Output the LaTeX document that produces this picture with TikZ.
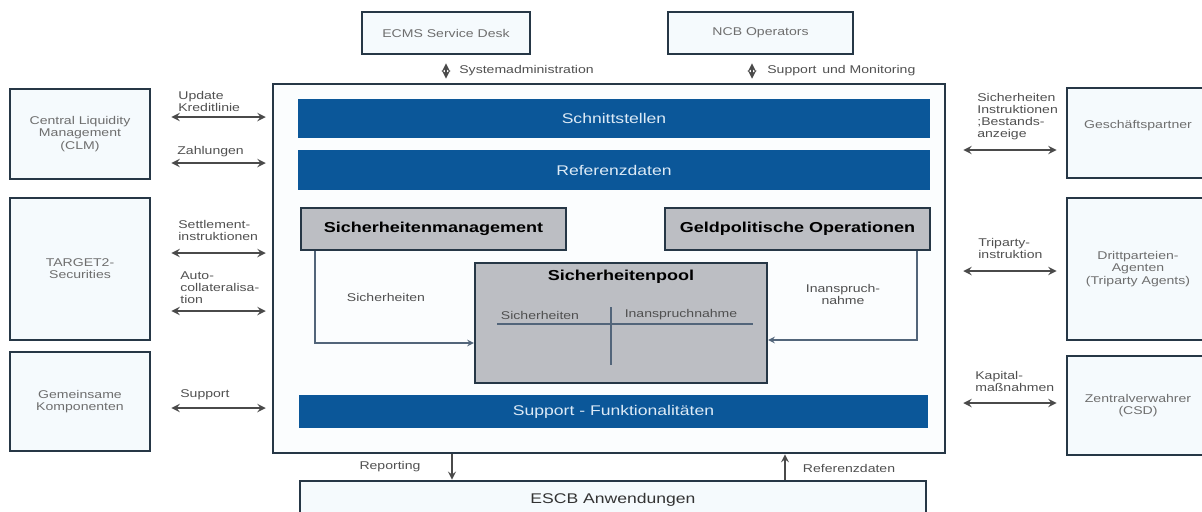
\documentclass[tikz,border=0pt]{standalone}
\usepackage{fontspec}
\setmainfont{Liberation Sans}[FakeStretch=1.25]
\usepackage{tikz}
\usetikzlibrary{arrows}

\definecolor{frame}{HTML}{263746}
\definecolor{paleblue}{HTML}{F5FAFD}
\definecolor{barblue}{HTML}{0B5799}
\definecolor{bartext}{HTML}{DCEAF6}
\definecolor{poolgray}{HTML}{BCBEC3}
\definecolor{boxtext}{HTML}{6E6E6E}
\definecolor{labeltext}{HTML}{505050}
\definecolor{arrowgray}{HTML}{4A4A4A}
\definecolor{flowline}{HTML}{52657A}

\tikzset{
  sidebox/.style={draw=frame, line width=1.6pt, fill=paleblue, inner sep=0pt,
    align=center, text=boxtext, font=\fontsize{6.4}{6.9}\selectfont},
  bar/.style={fill=barblue, inner sep=0pt, text=bartext,
    font=\fontsize{8}{9}\selectfont},
  graybox/.style={draw=frame, line width=1.3pt, fill=poolgray, inner sep=0pt,
    font=\bfseries\fontsize{8.2}{9}\selectfont},
  lbl/.style={align=left, anchor=west, inner sep=0pt, text=labeltext,
    font=\fontsize{6.4}{6.83}\selectfont},
  biarrow/.style={arrowgray, line width=1.1pt, stealth-stealth},
  onearrow/.style={arrowgray, line width=1pt, -stealth},
  flow/.style={flowline, line width=0.7pt, -stealth}
}

\begin{document}
\begin{tikzpicture}[x=0.02cm, y=-0.02cm]
\useasboundingbox (0,0) rectangle (1202,511);

\node[sidebox, minimum width=13.44cm, minimum height=7.38cm, line width=1.5pt, fill=white!60!paleblue] (main) at (609,268.5) {};

\node[sidebox, minimum width=3.36cm, minimum height=0.84cm] (ecms) at (446,33) {ECMS Service Desk};
\node[sidebox, minimum width=3.7cm, minimum height=0.84cm] (ncb) at (760.5,33) {NCB Operators};

\node[bar, minimum width=12.64cm, minimum height=0.78cm] (schnitt) at (614,118.5) {Schnittstellen};
\node[bar, minimum width=12.64cm, minimum height=0.8cm] (refd) at (614,170) {Referenzdaten};
\node[bar, minimum width=12.58cm, minimum height=0.66cm] (supp) at (613.5,411.5) {Support - Funktionalitäten};

\node[graybox, minimum width=5.3cm, minimum height=0.84cm] (sm) at (433.5,229) {Sicherheitenmanagement};
\node[graybox, minimum width=5.3cm, minimum height=0.84cm] (gpo) at (797.5,229) {Geldpolitische Operationen};
\node[graybox, minimum width=5.84cm, minimum height=2.4cm] (pool) at (621,323) {};
\node[font=\bfseries\fontsize{8.2}{9}\selectfont, inner sep=0pt] (pooltitle) at (621,277) {Sicherheitenpool};
\node[lbl, anchor=center] (poolsich) at (540,315) {Sicherheiten};
\node[lbl, anchor=center] (poolinan) at (681,315) {Inanspruchnahme};
\draw[flowline, line width=0.9pt] (497,324) -- (753,324);
\draw[flowline, line width=0.9pt] (611,307) -- (611,365);

\node[sidebox, minimum width=12.52cm, minimum height=0.76cm, font=\fontsize{8}{9}\selectfont, text=black!80] (escb) at (613,500) {ESCB Anwendungen};

\node[sidebox, minimum width=2.8cm, minimum height=1.8cm] (clm) at (80,134) {Central Liquidity\\Management\\(CLM)};
\node[sidebox, minimum width=2.8cm, minimum height=2.84cm] (t2s) at (80,269) {TARGET2-\\Securities};
\node[sidebox, minimum width=2.8cm, minimum height=1.98cm] (gem) at (80,401.5) {Gemeinsame\\Komponenten};

\node[sidebox, minimum width=2.84cm, minimum height=1.8cm] (gp) at (1138,133) {Geschäftspartner\\[3.3pt]};
\node[sidebox, minimum width=2.84cm, minimum height=2.84cm] (dritt) at (1138,269) {Drittparteien-\\Agenten\\(Triparty Agents)};
\node[sidebox, minimum width=2.84cm, minimum height=1.98cm] (csd) at (1138,405.5) {Zentralverwahrer\\(CSD)};

\draw[biarrow, shorten <=0.16cm, shorten >=0.08cm] (ecms.south) -- (main.north -| ecms.south);
\draw[biarrow, shorten <=0.16cm, shorten >=0.08cm] (ncb.south -| 752,0) -- (main.north -| 752,0);
\node[lbl] (sysadm) at (459,71) {Systemadministration};
\node[lbl] (suppmon) at (767,71) {Support\, und Monitoring};

\draw[biarrow, shorten <=0.4cm, shorten >=0.12cm] (clm.east |- 0,117) -- (main.west |- 0,117);
\draw[biarrow, shorten <=0.4cm, shorten >=0.12cm] (clm.east |- 0,163) -- (main.west |- 0,163);
\draw[biarrow, shorten <=0.4cm, shorten >=0.12cm] (t2s.east |- 0,253) -- (main.west |- 0,253);
\draw[biarrow, shorten <=0.4cm, shorten >=0.12cm] (t2s.east |- 0,311) -- (main.west |- 0,311);
\draw[biarrow, shorten <=0.4cm, shorten >=0.12cm] (gem.east |- 0,408) -- (main.west |- 0,408);
\node[lbl] (lupd) at (178,101) {Update\\Kreditlinie};
\node[lbl] (lzahl) at (177,152) {Zahlungen};
\node[lbl] (lsett) at (178,230.5) {Settlement-\\instruktionen};
\node[lbl] (lauto) at (180,288) {Auto-\\collateralisa-\\tion};
\node[lbl] (lsupp) at (180,395) {Support};

\draw[biarrow, shorten <=0.34cm, shorten >=0.18cm] (main.east |- 0,150) -- (gp.west |- 0,150);
\draw[biarrow, shorten <=0.34cm, shorten >=0.18cm] (main.east |- 0,271) -- (dritt.west |- 0,271);
\draw[biarrow, shorten <=0.34cm, shorten >=0.18cm] (main.east |- 0,403) -- (csd.west |- 0,403);
\node[lbl] (rsich) at (977,117) {Sicherheiten\\Instruktionen\\;Bestands-\\anzeige};
\node[lbl] (rtri) at (978,248) {Triparty-\\instruktion};
\node[lbl] (rkap) at (975,381) {Kapital-\\maßnahmen};

\draw[flow] (sm.south -| 315,0) |- (pool.west |- 0,343);
\draw[flow] (gpo.south -| 917,0) |- (pool.east |- 0,340);
\node[lbl, anchor=center] (fsich) at (386,297) {Sicherheiten};
\node[lbl, anchor=center, align=center] (finan) at (843,294) {Inanspruch-\\nahme};

\draw[onearrow] (main.south -| 452,0) -- (escb.north -| 452,0);
\draw[onearrow] (escb.north -| 785,0) -- (main.south -| 785,0);
\node[lbl, anchor=center] (lrep) at (390,467) {Reporting};
\node[lbl, anchor=center] (lref) at (849,468) {Referenzdaten};
\end{tikzpicture}
\end{document}
